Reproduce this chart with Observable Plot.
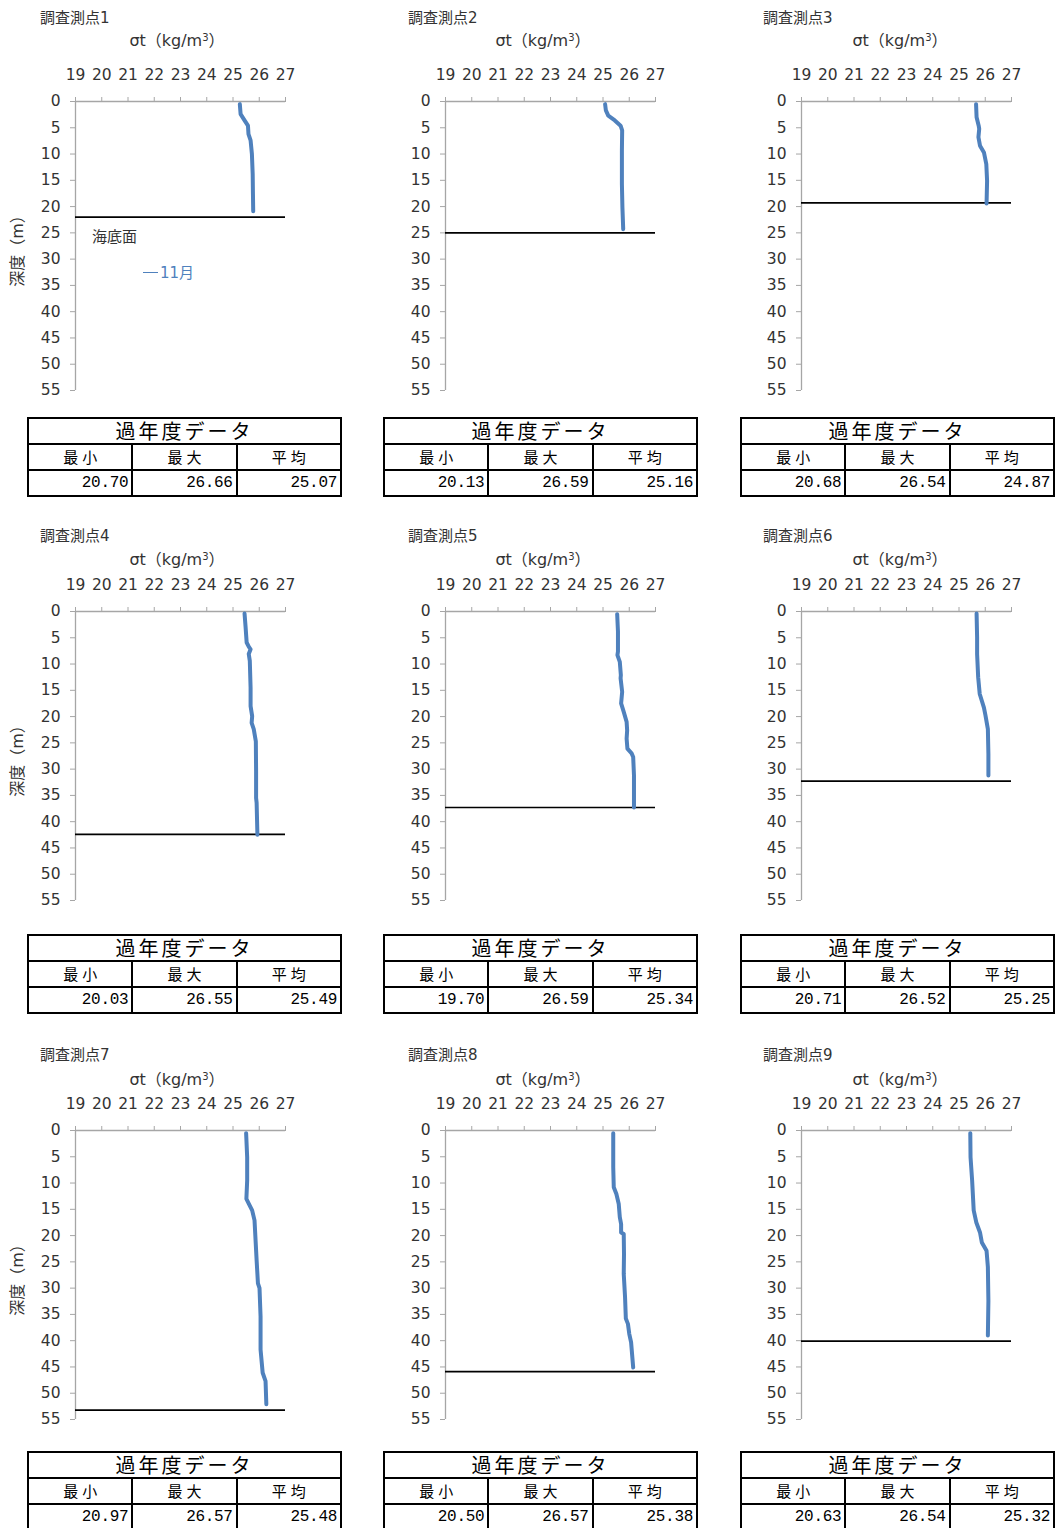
<!DOCTYPE html>
<html><head><meta charset="utf-8">
<script src="https://cdn.jsdelivr.net/npm/d3@7"></script>
<script src="https://cdn.jsdelivr.net/npm/@observablehq/plot@0.6"></script>
<style>
body{margin:0;background:#fff;}
#root{position:relative;width:1058px;height:1528px;overflow:hidden;font-family:"DejaVu Sans","Noto Sans CJK JP",sans-serif;color:#333;}
.abs{position:absolute;white-space:nowrap;}
.ttl{font-size:15px;line-height:18px;}
.xl{font-size:16px;line-height:18px;transform:translateX(-50%);}
.yl{font-size:16px;line-height:18px;transform:translate(-50%,-50%) rotate(-90deg);}
table.past{position:absolute;border-collapse:collapse;width:315px;table-layout:fixed;font-family:"Noto Sans CJK JP",sans-serif;color:#000;}
table.past td{border:2px solid #000;height:24px;padding:0;}
td.h1{font-size:20px;letter-spacing:3px;text-align:center;line-height:24px;}
td.h2{font-size:15px;letter-spacing:4px;text-align:center;line-height:24px;padding-left:4px!important;}
td.v{font-family:"Liberation Mono","DejaVu Sans Mono",monospace;font-size:16px;text-align:right;padding-right:3px!important;line-height:24px;letter-spacing:-0.3px;}
</style></head><body><div id="root"></div>
<script>
const stations = ["調査測点1","調査測点2","調査測点3","調査測点4","調査測点5","調査測点6","調査測点7","調査測点8","調査測点9"];
const xTicks = [19,20,21,22,23,24,25,26,27];
const yTicks = [0,5,10,15,20,25,30,35,40,45,50,55];
const seabed = [22, 25, 19.3, 42.4, 37.3, 32.3, 53.2, 45.9, 40.1];
const pastMin = [20.70, 20.13, 20.68, 20.03, 19.70, 20.71, 20.97, 20.50, 20.63];
const pastMax = [26.66, 26.59, 26.54, 26.55, 26.59, 26.52, 26.57, 26.57, 26.54];
const pastMean = [25.07, 25.16, 24.87, 25.49, 25.34, 25.25, 25.48, 25.38, 25.32];

const p1Depth = [0.5, 2.4, 3.6, 4.6, 6.2, 7.4, 10, 13.8, 17.6, 20.9];
const p1Sigma = [25.26, 25.29, 25.44, 25.57, 25.59, 25.67, 25.72, 25.75, 25.76, 25.77];
const p2Depth = [0.5, 1.7, 2.7, 3.6, 4.6, 5.5, 9.3, 15.7, 20.2, 24.3];
const p2Sigma = [25.08, 25.11, 25.2, 25.45, 25.67, 25.73, 25.72, 25.72, 25.74, 25.77];
const p3Depth = [0.5, 3, 4.6, 5.2, 6.8, 8.4, 9.7, 11.9, 15.1, 19.4];
const p3Sigma = [25.65, 25.67, 25.75, 25.77, 25.74, 25.8, 25.95, 26.04, 26.07, 26.05];
const p4Depth = [0.4, 3, 5.9, 6.7, 7.2, 8.1, 9.4, 14.5, 18, 19.9, 21.2, 22.4, 24.7, 30.4, 35.5, 36.4, 42.5];
const p4Sigma = [25.44, 25.48, 25.52, 25.6, 25.67, 25.6, 25.64, 25.67, 25.67, 25.73, 25.71, 25.79, 25.87, 25.88, 25.88, 25.9, 25.93];
const p5Depth = [0.5, 3.8, 7.6, 8.3, 9.6, 12.1, 12.7, 15.3, 17.5, 19.1, 21, 22.6, 24.2, 26.1, 27, 27.7, 31.2, 37.3];
const p5Sigma = [25.54, 25.57, 25.57, 25.55, 25.64, 25.68, 25.67, 25.73, 25.69, 25.79, 25.9, 25.92, 25.9, 25.93, 26.09, 26.15, 26.18, 26.18];
const p6Depth = [0.4, 4.9, 8.1, 12.5, 15.7, 18.3, 19.8, 22.4, 27.1, 31.2];
const p6Sigma = [25.67, 25.69, 25.69, 25.73, 25.79, 25.95, 26.01, 26.1, 26.12, 26.12];
const p7Depth = [0.5, 5.1, 9.5, 13, 13.9, 15.2, 17.1, 20.9, 24.7, 29.1, 30, 35.4, 41.7, 46.1, 47.7, 52.1];
const p7Sigma = [25.5, 25.54, 25.54, 25.51, 25.6, 25.73, 25.82, 25.86, 25.9, 25.95, 26.01, 26.05, 26.05, 26.13, 26.24, 26.27];
const p8Depth = [0.5, 7, 10.8, 12.1, 14, 16.5, 17.8, 19.4, 19.7, 23.5, 27.3, 31.7, 35.8, 36.8, 38.7, 40.3, 45.1];
const p8Sigma = [25.39, 25.39, 25.41, 25.51, 25.6, 25.64, 25.69, 25.69, 25.79, 25.8, 25.79, 25.84, 25.87, 25.95, 26, 26.07, 26.15];
const p9Depth = [0.5, 5.1, 9.5, 15.2, 17.5, 19.4, 21.3, 22.9, 26, 32.4, 39];
const p9Sigma = [25.43, 25.44, 25.5, 25.56, 25.66, 25.8, 25.87, 26.05, 26.1, 26.12, 26.1];

const depths = [p1Depth,p2Depth,p3Depth,p4Depth,p5Depth,p6Depth,p7Depth,p8Depth,p9Depth];
const sigmas = [p1Sigma,p2Sigma,p3Sigma,p4Sigma,p5Sigma,p6Sigma,p7Sigma,p8Sigma,p9Sigma];

const root = document.getElementById("root");
const colX = [75, 445, 801];
const rowY = [101, 611, 1130];
const titleX = [40, 408, 763];
const titleY = [9, 527, 1046];
const xlabX = [177, 543, 900];
const xlabY = [29, 548, 1068];
const tableX = [27, 383, 740];
const tableY = [417, 934, 1451];
const ML = 70, MT = 45, PW = 210, PH = 289;
const blue = "#4F81BD", axisGray = "#a6a6a6";

function add(html, cls, left, top, style) {
  const d = document.createElement("div");
  d.className = "abs " + cls;
  d.innerHTML = html;
  d.style.left = left + "px"; d.style.top = top + "px";
  if (style) Object.assign(d.style, style);
  root.appendChild(d);
  return d;
}

for (let i = 0; i < 9; i++) {
  const c = i % 3, r = Math.floor(i / 3);
  const data = depths[i].map((d, k) => ({depth: d, sigma: sigmas[i][k]}));
  const svg = Plot.plot({
    width: ML + PW + 12, height: MT + PH + 10,
    marginLeft: ML, marginTop: MT, marginRight: 12, marginBottom: 10,
    style: {fontFamily: '"DejaVu Sans", sans-serif', fontSize: "15px", background: "transparent", overflow: "visible"},
    x: {domain: [19, 27]},
    y: {domain: [0, 55], reverse: true},
    marks: [
      Plot.axisX(xTicks, {anchor: "top", tickSize: 5, tickPadding: 17, stroke: axisGray, fill: "#333", fontSize: 15.5, label: null, tickFormat: d => String(d)}),
      Plot.axisY(yTicks, {anchor: "left", tickSize: 5, tickPadding: 10, stroke: axisGray, fill: "#333", fontSize: 15.5, label: null, tickFormat: d => String(d)}),
      Plot.ruleY([0], {stroke: axisGray, strokeWidth: 1.3}),
      Plot.ruleX([19], {stroke: axisGray, strokeWidth: 1.3}),
      Plot.ruleY([seabed[i]], {stroke: "#000", strokeWidth: 1.7}),
      Plot.line(data, {x: "sigma", y: "depth", stroke: blue, strokeWidth: 4, strokeLinejoin: "round", strokeLinecap: "round"})
    ]
  });
  svg.style.position = "absolute";
  svg.style.left = (colX[c] - ML) + "px";
  svg.style.top = (rowY[r] - MT) + "px";
  root.appendChild(svg);

  add(stations[i], "ttl", titleX[c], titleY[r]);
  add("σt（kg/m<span style='font-size:10px;vertical-align:5px'>3</span>）", "xl", xlabX[c], xlabY[r]);
  if (c === 0) add("深度（m）", "yl", 18, rowY[r] + 146);

  const t = document.createElement("table");
  t.className = "past";
  t.style.left = tableX[c] + "px"; t.style.top = tableY[r] + "px";
  t.innerHTML = `<tr><td class="h1" colspan="3">過年度データ</td></tr>
    <tr><td class="h2">最小</td><td class="h2">最大</td><td class="h2">平均</td></tr>
    <tr><td class="v">${pastMin[i].toFixed(2)}</td><td class="v">${pastMax[i].toFixed(2)}</td><td class="v">${pastMean[i].toFixed(2)}</td></tr>`;
  root.appendChild(t);
}

// legend inside station 1
add("海底面", "ttl", 92, 228);
add("<span style='display:inline-block;width:15px;border-top:1.5px solid " + blue + ";vertical-align:5px;margin-right:2px'></span>11月", "ttl", 143, 264, {color: blue});
</script>
</body></html>
